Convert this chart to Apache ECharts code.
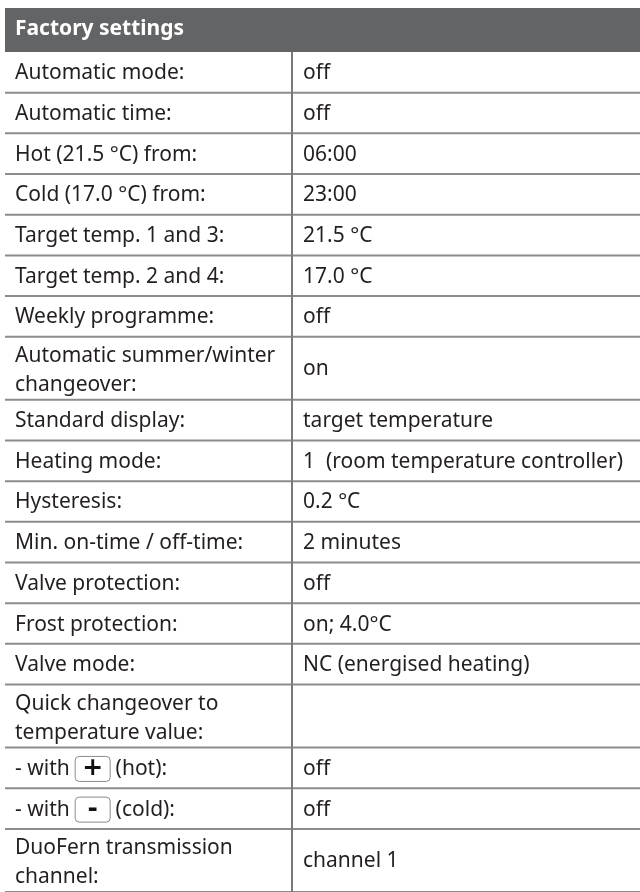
<!DOCTYPE html>
<html>
<head>
<meta charset="utf-8">
<script src="https://cdn.jsdelivr.net/npm/echarts@6/dist/echarts.min.js"></script>
<style>
  html, body { margin: 0; background: #fff; }
  #main { width: 640px; height: 892px; }
</style>
</head>
<body>
<div id="main"></div>
<script>
  // table content
  const tableTitle = 'Factory settings';
  const settings = [
    'Automatic mode:',
    'Automatic time:',
    'Hot (21.5 °C) from:',
    'Cold (17.0 °C) from:',
    'Target temp. 1 and 3:',
    'Target temp. 2 and 4:',
    'Weekly programme:',
    'Automatic summer/winter\nchangeover:',
    'Standard display:',
    'Heating mode:',
    'Hysteresis:',
    'Min. on-time / off-time:',
    'Valve protection:',
    'Frost protection:',
    'Valve mode:',
    'Quick changeover to\ntemperature value:',
    '- with {plus|+} (hot):',
    '- with {minus|-} (cold):',
    'DuoFern transmission\nchannel:'
  ];
  const values = [
    'off',
    'off',
    '06:00',
    '23:00',
    '21.5 °C',
    '17.0 °C',
    'off',
    'on',
    'target temperature',
    '1  (room temperature controller)',
    '0.2 °C',
    '2 minutes',
    'off',
    'on; 4.0°C',
    'NC (energised heating)',
    '',
    'off',
    'off',
    'channel 1'
  ];
  // height of each row in units of a single-line row
  const rowHeights = [1, 1, 1, 1, 1, 1, 1, 1.55, 1, 1, 1, 1, 1, 1, 1, 1.55, 1, 1, 1.55];

  const ROW_PX = 40.75;
  const COL_SPLIT = 0.452;
  const FONT = '"Noto Sans", sans-serif';

  const rowData = [];
  let acc = 0;
  rowHeights.forEach(h => { rowData.push([acc, acc + h]); acc += h; });
  const total = acc;

  const chart = echarts.init(document.getElementById('main'));

  const keyBox = {
    fontSize: 25, fontWeight: 'bold', fontFamily: 'DejaVu Sans',
    width: 35, height: 25, lineHeight: 25, align: 'center',
    borderColor: '#8c8c8c', borderWidth: 1, borderRadius: 4,
    fill: '#111'
  };

  function renderRow(params, api) {
    const i = params.dataIndex;
    const tl = api.coord([0, api.value(0)]);
    const br = api.coord([1, api.value(1)]);
    const mid = api.coord([COL_SPLIT, api.value(0)]);
    const cy = (tl[1] + br[1]) / 2;
    const twoLines = settings[i].indexOf('\n') >= 0;
    return {
      type: 'group',
      children: [
        {
          type: 'line',
          shape: { x1: tl[0], y1: br[1], x2: br[0], y2: br[1] },
          style: { stroke: '#8c8c8c', lineWidth: 2 }
        },
        {
          type: 'line',
          shape: { x1: mid[0], y1: tl[1], x2: mid[0], y2: br[1] },
          style: { stroke: '#7a7a7a', lineWidth: 2 }
        },
        {
          type: 'text',
          style: {
            x: tl[0] + 10, y: cy + (twoLines ? 2 : 1),
            text: settings[i],
            fill: '#231f20',
            font: '21px ' + FONT,
            lineHeight: 29,
            verticalAlign: 'middle',
            rich: { plus: keyBox, minus: keyBox }
          }
        },
        {
          type: 'text',
          style: {
            x: mid[0] + 11, y: cy + 1,
            text: values[i],
            fill: '#231f20',
            font: '21px ' + FONT,
            verticalAlign: 'middle'
          }
        }
      ]
    };
  }

  chart.setOption({
    animation: false,
    grid: { left: 5, right: 0, top: 52, height: total * ROW_PX },
    xAxis: { type: 'value', min: 0, max: 1, show: false },
    yAxis: { type: 'value', min: 0, max: total, inverse: true, show: false },
    graphic: [
      {
        type: 'rect', left: 5, top: 8,
        shape: { width: 635, height: 44 },
        style: { fill: '#636466' }
      },
      {
        type: 'text', left: 15, top: 19,
        style: { text: tableTitle, fill: '#fff', font: 'bold 21px ' + FONT }
      }
    ],
    series: [{
      type: 'custom',
      renderItem: renderRow,
      data: rowData,
      clip: false,
      silent: true
    }]
  });
</script>
</body>
</html>
